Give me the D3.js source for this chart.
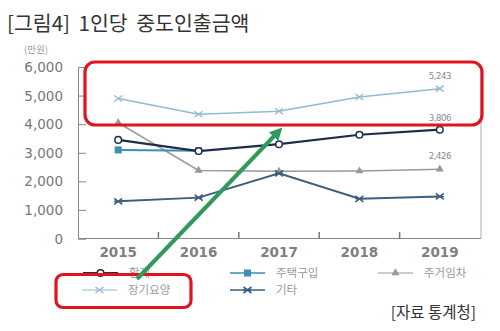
<!DOCTYPE html>
<html><head><meta charset="utf-8">
<script src="https://cdn.jsdelivr.net/npm/d3@7"></script>
<style>body{margin:0;background:#fff;}svg{display:block;font-family:"Noto Sans CJK KR","Noto Sans",sans-serif;}</style>
</head><body>
<svg id="c" width="500" height="331"></svg>
<script>
const years = ["2015","2016","2017","2018","2019"];
const total = [3450, 3060, 3300, 3630, 3806];        // 합계
const housePurchase = [3100, 3070, null, null, null]; // 주택구입
const houseRent = [4050, 2380, 2350, 2360, 2426];     // 주거임차
const longTermCare = [4900, 4350, 4450, 4950, 5243];  // 장기요양
const others = [1300, 1430, 2280, 1390, 1470];        // 기타
const yTicks = [0, 1000, 2000, 3000, 4000, 5000, 6000];

const svg = d3.select("#c");
const x = d3.scaleBand().domain(years).range([78, 480]);
const y = d3.scaleLinear().domain([0, 6000]).range([238.5, 67]);
const cx = d => x(d) + x.bandwidth()/2;

// title
svg.append("text").attr("x", 7).attr("y", 31).attr("font-size", 20.5).attr("word-spacing", 4).attr("fill", "#333").text("[그림4] 1인당 중도인출금액");
svg.append("text").attr("x", 24).attr("y", 53).attr("font-size", 9.5).attr("fill", "#999").text("(만원)");

// y axis
const yAxis = svg.append("g").attr("transform", "translate(78,0)")
  .call(d3.axisRight(y).tickValues(yTicks).tickSize(8).tickFormat(""));
yAxis.select(".domain").attr("stroke", "#888");
yAxis.selectAll("line").attr("stroke", "#888");
svg.selectAll(".ylab").data(yTicks).join("text").attr("class","ylab")
  .attr("x", 63).attr("y", d => y(d) + 5).attr("text-anchor", "end")
  .attr("font-size", 13.5).attr("fill", "#777").attr("font-family", "DejaVu Sans, sans-serif")
  .text(d => d3.format(",")(d));

// x axis
svg.append("line").attr("x1", 78).attr("x2", 481).attr("y1", 238.5).attr("y2", 238.5).attr("stroke", "#888");
svg.append("line").attr("x1", 481).attr("x2", 481).attr("y1", 67).attr("y2", 238.5).attr("stroke", "#aaa");
svg.selectAll(".xt").data(years.slice(1)).join("line").attr("class","xt")
  .attr("x1", d => x(d)).attr("x2", d => x(d)).attr("y1", 238.5).attr("y2", 232).attr("stroke", "#777").attr("stroke-width", 1.5);
svg.selectAll(".xl").data(years).join("text").attr("class","xl")
  .attr("x", d => cx(d)).attr("y", 257).attr("text-anchor", "middle")
  .attr("font-size", 13.5).attr("font-weight", "bold").attr("fill", "#808080").attr("font-family", "DejaVu Sans, sans-serif")
  .text(d => d);

const series = [
  {name:"주거임차", vals: houseRent, color:"#9a9a9a", w:1.5, m:"tri"},
  {name:"기타", vals: others, color:"#3d5f7e", w:2, m:"star"},
  {name:"장기요양", vals: longTermCare, color:"#92bad0", w:1.5, m:"x"},
  {name:"주택구입", vals: housePurchase, color:"#3a8fb3", w:2, m:"sq"},
  {name:"합계", vals: total, color:"#1e2d4a", w:2.2, m:"circ"}
];

function marker(g, m, color, px, py) {
  if (m === "circ") g.append("circle").attr("cx", px).attr("cy", py).attr("r", 3.3).attr("fill", "#fff").attr("stroke", color).attr("stroke-width", 1.5);
  else if (m === "sq") g.append("rect").attr("x", px-3.5).attr("y", py-3.5).attr("width", 7).attr("height", 7).attr("fill", color);
  else if (m === "tri") g.append("path").attr("d", d3.symbol(d3.symbolTriangle, 28)()).attr("transform", `translate(${px},${py})`).attr("fill", color);
  else if (m === "x") g.append("path").attr("d", `M${px-4},${py-3}L${px+4},${py+3}M${px-4},${py+3}L${px+4},${py-3}`).attr("stroke", color).attr("stroke-width", 1.3);
  else if (m === "star") g.append("path").attr("d", `M${px-4},${py-3}L${px+4},${py+3}M${px-4},${py+3}L${px+4},${py-3}M${px-4},${py}L${px+4},${py}`).attr("stroke", color).attr("stroke-width", 1.6);
}

series.forEach(s => {
  const pts = years.map((yr, i) => [yr, s.vals[i]]).filter(p => p[1] != null);
  const line = d3.line().x(p => cx(p[0])).y(p => y(p[1]));
  svg.append("path").attr("d", line(pts)).attr("fill", "none").attr("stroke", s.color).attr("stroke-width", s.w);
  const g = svg.append("g");
  pts.forEach(p => marker(g, s.m, s.color, cx(p[0]), y(p[1])));
});

// data labels for 2019
const lab = [[longTermCare[4], -10], [total[4], -9], [houseRent[4], -10]];
lab.forEach(([v, dy]) => {
  svg.append("text").attr("x", cx("2019")).attr("y", y(v) + dy).attr("text-anchor", "middle")
    .attr("font-size", 8.5).attr("fill", "#888").attr("font-family", "DejaVu Sans, sans-serif").attr("letter-spacing", -0.4)
    .text(d3.format(",")(v));
});

// legend
const leg = [
  {name:"합계", s:series[4], x:83, y:273},
  {name:"주택구입", s:series[3], x:230, y:273},
  {name:"주거임차", s:series[0], x:378, y:273},
  {name:"장기요양", s:series[2], x:82, y:290},
  {name:"기타", s:series[1], x:230, y:290}
];
leg.forEach(l => {
  const g = svg.append("g");
  g.append("line").attr("x1", l.x).attr("x2", l.x+35).attr("y1", l.y).attr("y2", l.y).attr("stroke", l.s.color).attr("stroke-width", l.s.w*0.8);
  marker(g, l.s.m, l.s.color, l.x+17.5, l.y);
  g.append("text").attr("x", l.x+46).attr("y", l.y+4).attr("font-size", 11.5).attr("fill", "#999").text(l.name);
});

svg.append("text").attr("x", 476).attr("y", 318).attr("text-anchor", "end").attr("font-size", 15.5).attr("fill", "#333").text("[자료 통계청]");

// annotations
svg.append("rect").attr("x", 85).attr("y", 62).attr("width", 397).attr("height", 63).attr("rx", 10)
  .attr("fill", "none").attr("stroke", "#e0141e").attr("stroke-width", 3.2);
svg.append("rect").attr("x", 56).attr("y", 274.5).attr("width", 135).attr("height", 33).attr("rx", 7)
  .attr("fill", "none").attr("stroke", "#e0141e").attr("stroke-width", 3.2);
const defs = svg.append("defs");
defs.append("marker").attr("id", "ah").attr("viewBox", "0 0 10 10").attr("refX", 5).attr("refY", 5)
  .attr("markerWidth", 3.2).attr("markerHeight", 3.2).attr("orient", "auto")
  .append("path").attr("d", "M0,0L10,5L0,10Z").attr("fill", "#2f9a5c");
svg.append("line").attr("x1", 137).attr("y1", 279).attr("x2", 278).attr("y2", 132)
  .attr("stroke", "#2f9a5c").attr("stroke-width", 4).attr("marker-end", "url(#ah)");
</script>
</body></html>
